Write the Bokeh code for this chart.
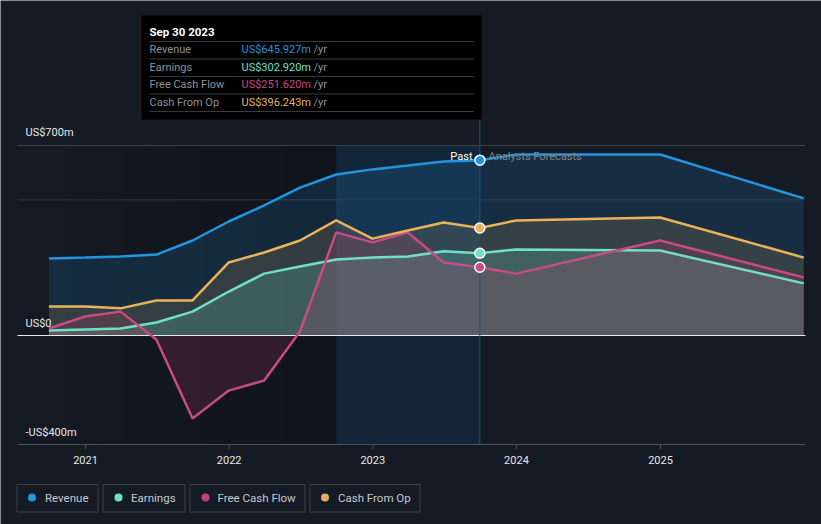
import numpy as np
import pandas as pd
from bokeh.plotting import figure
from bokeh.models import Range1d, Label
from bokeh.core.properties import value
from bokeh.embed import file_html
from bokeh.resources import INLINE

# ---------------- data (US$ millions) ----------------
dates = ["2020-09-30", "2020-12-31", "2021-03-31", "2021-06-30", "2021-09-30",
         "2021-12-31", "2022-03-31", "2022-06-30", "2022-09-30", "2022-12-31",
         "2023-03-31", "2023-06-30", "2023-09-30", "2023-12-31", "2024-12-31",
         "2025-12-31"]
revenue = [284, 287, 291, 298, 350, 420, 479, 545, 593, 612, 626, 641, 645.927, 667, 667, 505]
earnings = [18, 22, 26, 48, 88, 162, 228, 254, 280, 287, 291, 310, 302.920, 317, 313, 192]
free_cash_flow = [26, 70, 88, -15, -306, -203, -166, 15, 380, 343, 380, 269, 251.620, 228, 350, 214]
cash_from_op = [107, 107, 100, 129, 129, 269, 306, 350, 424, 357, 387, 416, 396.243, 424, 435, 287]

series_names = ["Revenue", "Earnings", "Free Cash Flow", "Cash From Op"]
tick_years = ["2021", "2022", "2023", "2024", "2025"]
y_labels = ["US$700m", "US$0", "-US$400m"]
tooltip_date = "Sep 30 2023"
tooltip_values = ["US$645.927m", "US$302.920m", "US$251.620m", "US$396.243m"]
past_index = 12          # last reported point (Sep 30 2023)
band_start_index = 8     # start of the highlighted last-year band

# ---------------- styling ----------------
BG = "#151b24"
line_colors = ["#2394df", "#70e0c4", "#c84b87", "#eab15a"]
fill_colors = ["#2394df", "#eab15a", "#70e0c4", "#d8406e"]
FONT = "Roboto"

x_ms = [pd.Timestamp(d).value // 10**6 for d in dates]
tick_ms = [pd.Timestamp(y + "-01-01").value // 10**6 for y in tick_years]

# page-pixel helpers (the frame covers the whole 821x524 canvas)
t0 = tick_ms[0]
mpp = (tick_ms[-1] - tick_ms[0]) / 575.0
ppu = 190.0 / 700.0

def px2x(px):
    return t0 + (px - 85) * mpp

def py2y(py):
    return (335 - py) / ppu

p = figure(width=821, height=524, x_axis_location=None, y_axis_location=None,
           x_range=Range1d(px2x(0), px2x(821)), y_range=Range1d(py2y(524), py2y(0)),
           output_backend="svg", toolbar_location=None,
           min_border_left=0, min_border_right=0, min_border_top=0, min_border_bottom=0,
           background_fill_color=BG, border_fill_color=BG, outline_line_color=None)
p.grid.visible = False

# past-region darkening gradient
n_strips = 12
edges = np.linspace(17, 336, n_strips + 1)
for i in range(n_strips):
    p.quad(left=px2x(edges[i]), right=px2x(edges[i + 1]), bottom=py2y(444), top=py2y(145),
           fill_color="black", fill_alpha=0.02 + 0.2 * i / (n_strips - 1), line_color=None)

# highlighted last-year band
p.quad(left=x_ms[band_start_index], right=x_ms[past_index], bottom=py2y(444), top=py2y(145),
       fill_color="#0a5a9c", fill_alpha=0.18, line_color=None)

# grid lines
p.segment(x0=px2x(17), x1=px2x(805), y0=700, y1=700, line_color="#3b414b", line_width=1)
p.segment(x0=px2x(17), x1=px2x(805), y0=500, y1=500, line_color="#232a34", line_width=1.5)

# areas
zeros = [0] * len(x_ms)
for vals, col, a in zip([revenue, cash_from_op, earnings, free_cash_flow], fill_colors,
                        [0.16, 0.15, 0.2, 0.17]):
    p.varea(x=x_ms, y1=zeros, y2=vals, fill_color=col, fill_alpha=a)

# zero line
p.segment(x0=px2x(17), x1=px2x(805), y0=0, y1=0, line_color="#e8e8e8", line_width=1.2)

# lines
for vals, col in zip([revenue, earnings, free_cash_flow, cash_from_op], line_colors):
    p.line(x=x_ms, y=vals, line_color=col, line_width=2.5)

# past / forecast divider
p.segment(x0=x_ms[past_index], x1=x_ms[past_index], y0=py2y(119), y1=py2y(444),
          line_color="#1f5378", line_width=1)

# markers at the last reported point
p.scatter(x=[x_ms[past_index]] * 4,
          y=[revenue[past_index], earnings[past_index], free_cash_flow[past_index], cash_from_op[past_index]],
          size=10, fill_color=line_colors, line_color="white", line_width=1.5)

# x axis (drawn on the x scale)
p.segment(x0=px2x(17), x1=px2x(805), y0=py2y(444), y1=py2y(444), line_color="#4b5159", line_width=1)
p.segment(x0=tick_ms, x1=tick_ms, y0=[py2y(444)] * len(tick_ms), y1=[py2y(448.5)] * len(tick_ms),
          line_color="#4b5159", line_width=1)
p.text(x=tick_ms, y=[py2y(459)] * len(tick_ms), text=tick_years, text_color="#e8e8e8",
       text_font=value(FONT), text_font_size="11px", text_align="center", text_baseline="middle")

# tooltip box
p.quad(left=px2x(141), right=px2x(481), top=py2y(15), bottom=py2y(119),
       fill_color="black", line_color=None)
for sy in [41, 58.5, 76, 93.5, 111]:
    p.segment(x0=px2x(149), x1=px2x(473), y0=py2y(sy), y1=py2y(sy), line_color="#3a3a3a", line_width=1)

def add_label(px, py, text, color, size="11px", align="left", bold=False):
    p.add_layout(Label(x=px2x(px), y=py2y(py), text=text, text_color=color, text_font=FONT,
                       text_font_size=size, text_align=align, text_baseline="middle",
                       text_font_style="bold" if bold else "normal"))

add_label(149, 31, tooltip_date, "#ffffff", size="11.5px", bold=True)
tip_colors = ["#2394df", "#6fe0c8", "#c8478a", "#e9b25a"]
for name, val, col, cy in zip(series_names, tooltip_values, tip_colors, [49, 66.5, 84, 101.5]):
    add_label(149, cy, name, "#8d9299", size="11px")
    add_label(241, cy, val, col, size="11px")
    add_label(313, cy, "/yr", "#8d9299", size="11px")

# y labels
for txt, cy in zip(y_labels, [132, 323, 432]):
    add_label(25, cy, txt, "#e8e8e8", size="11px")

add_label(472, 156, "Past", "#ffffff", size="11px", align="right")
add_label(488, 156, "Analysts Forecasts", "#7c838c", size="11px")

# legend (one bordered box per series)
legend_colors = ["#2394df", "#6fe0c8", "#c0407f", "#e5ad62"]
box_left = [16.5, 102.5, 189.5, 309.5]
box_right = [97.5, 184.5, 304.5, 419.5]
dot_x = [31.5, 118, 205, 324.5]
text_x = [44.5, 130.5, 217, 337.5]
p.quad(left=[px2x(v) for v in box_left], right=[px2x(v) for v in box_right],
       top=py2y(484), bottom=py2y(511.5), fill_color=None, line_color="#3a4049", line_width=1)
p.scatter(x=[px2x(v) for v in dot_x], y=[py2y(497)] * 4, size=8, fill_color=legend_colors, line_color=None)
p.text(x=[px2x(v) for v in text_x], y=[py2y(497.5)] * 4, text=series_names, text_color="#c5c9cf",
       text_font=value(FONT), text_font_size="11.5px", text_baseline="middle")

open("out.html", "w").write(file_html(p, INLINE))
